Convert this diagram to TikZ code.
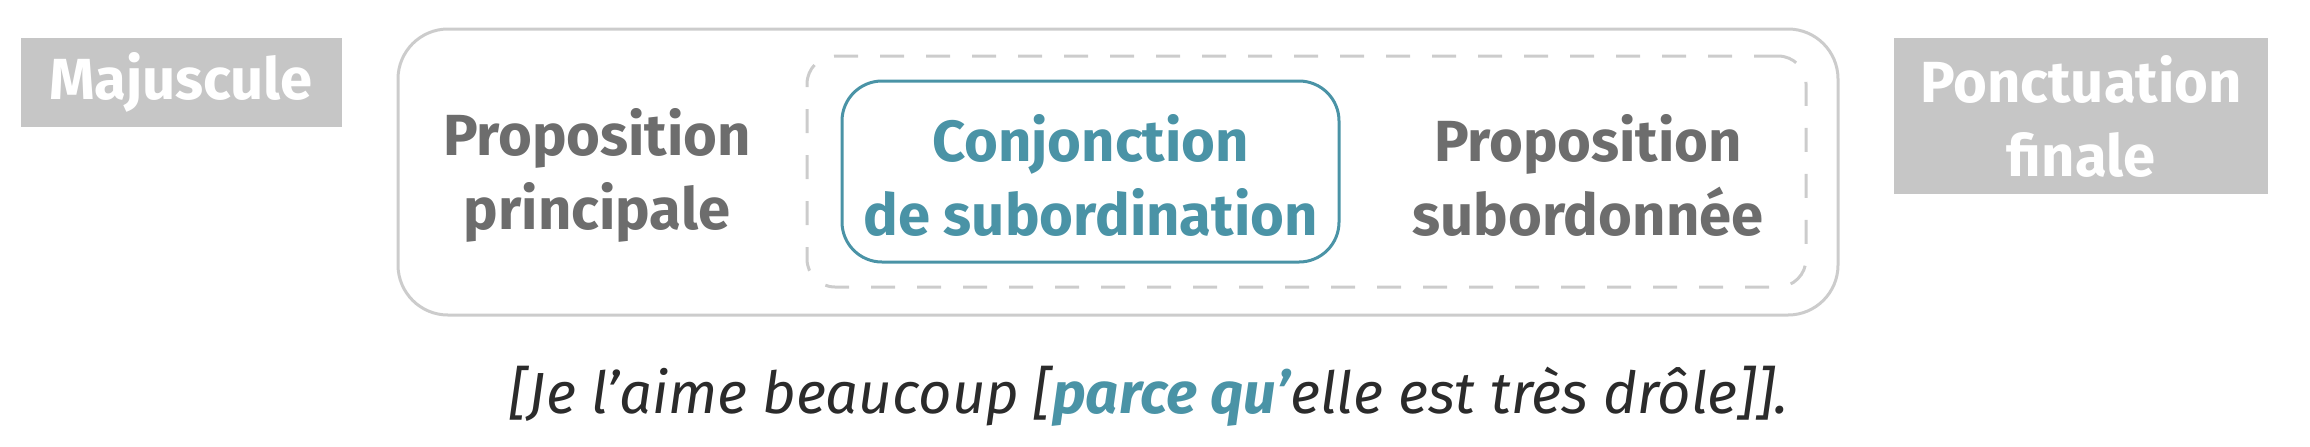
\documentclass[tikz,border=0pt]{standalone}
\usepackage{fontspec}
\setmainfont{Fira Sans}
\definecolor{boxgray}{HTML}{C6C6C6}
\definecolor{linegray}{HTML}{CCCCCC}
\definecolor{textgray}{HTML}{6D6D6D}
\definecolor{teal}{HTML}{4A93A6}
\definecolor{inkdark}{HTML}{2B2B2B}

\begin{document}
\begin{tikzpicture}[x=0.5pt, y=-0.5pt]
    \useasboundingbox (0,0) rectangle (2310,446);
    \node[draw=linegray, line width=1.5pt, rounded corners=25pt, minimum width=720pt, minimum height=143pt] (outer) at (1118,172) {};
    \node[draw=linegray, line width=1.5pt, dash pattern=on 12pt off 11pt, rounded corners=14pt, minimum width=499.5pt, minimum height=115.5pt] (sub) at (1306.5,171.5) {};
    \node[draw=teal, line width=1.5pt, rounded corners=20pt, minimum width=248.5pt, minimum height=90.5pt] (conjbox) at (1090.5,171.5) {};
    \node[fill=boxgray, minimum width=160.5pt, minimum height=44.5pt, text=white, font=\fontsize{29}{37}\selectfont\bfseries] (maj) at (181,82.5) {Majuscule};
    \node[fill=boxgray, minimum width=187pt, minimum height=78pt, text=white, align=center, font=\fontsize{29}{37}\selectfont\bfseries] (ponct) at (2081,116) {Ponctuation\\finale};
    \node[text=textgray, align=center, font=\fontsize{29}{37}\selectfont\bfseries] (princ) at (597,175) {Proposition\\principale};
    \node[text=teal, align=center, font=\fontsize{29}{37}\selectfont\bfseries] (conj) at (1090.5,175) {Conjonction\\de subordination};
    \node[text=textgray, align=center, font=\fontsize{29}{37}\selectfont\bfseries] (subord) at (1588,175) {Proposition\\subordonnée};
    \node[text=inkdark, font=\fontsize{29}{35}\selectfont\itshape] (phrase) at (1149,396) {[Je l’aime beaucoup [\textcolor{teal}{\bfseries parce qu’}elle est très drôle]].};
\end{tikzpicture}
\end{document}
